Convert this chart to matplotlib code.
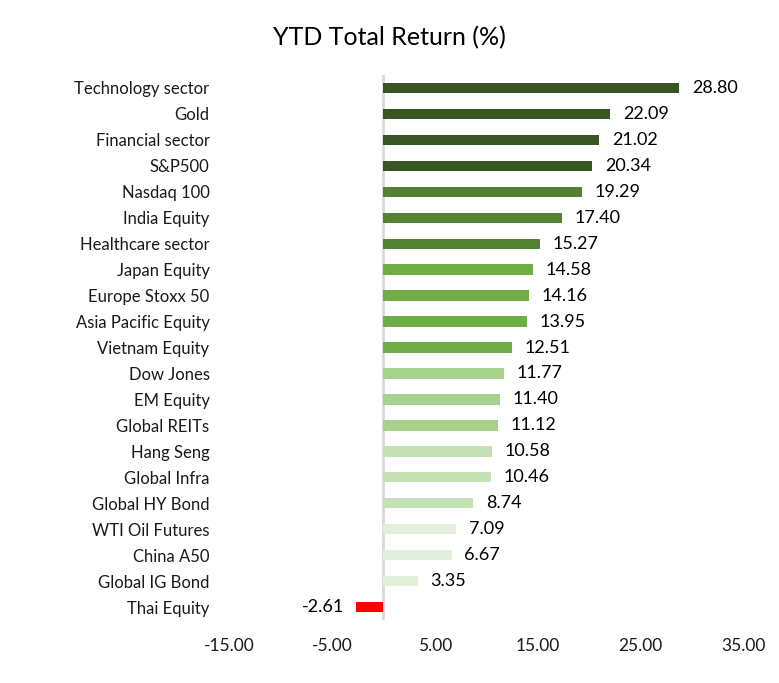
import numpy as np
import matplotlib.pyplot as plt

plt.rcParams['font.family'] = ['Lato', 'DejaVu Sans']

# data
categories = ['Technology sector', 'Gold', 'Financial sector', 'S&P500', 'Nasdaq 100',
              'India Equity', 'Healthcare sector', 'Japan Equity', 'Europe Stoxx 50',
              'Asia Pacific Equity', 'Vietnam Equity', 'Dow Jones', 'EM Equity',
              'Global REITs', 'Hang Seng', 'Global Infra', 'Global HY Bond',
              'WTI Oil Futures', 'China A50', 'Global IG Bond', 'Thai Equity']
returns = [28.80, 22.09, 21.02, 20.34, 19.29, 17.40, 15.27, 14.58, 14.16, 13.95,
           12.51, 11.77, 11.40, 11.12, 10.58, 10.46, 8.74, 7.09, 6.67, 3.35, -2.61]
bar_colors = (['#375623'] * 4 + ['#548235'] * 3 + ['#70AD47'] * 4 + ['#A9D18E'] * 3
              + ['#C5E0B4'] * 3 + ['#E2EFDA'] * 3 + ['#FF0000'])
xticks = [-15, -5, 5, 15, 25, 35]

fig = plt.figure(figsize=(7.79, 6.83), dpi=100)
ax = fig.add_axes([0.294, 0.0922, 0.660, 0.798])

y = np.arange(len(categories))
ax.barh(y, returns, height=0.4, color=bar_colors)

# data labels
for yi, v in zip(y, returns):
    if v >= 0:
        ax.annotate(f'{v:.2f}', (v, yi), xytext=(9, 0), textcoords='offset points',
                    ha='left', va='center', fontsize=13)
    else:
        ax.annotate(f'{v:.2f}', (v, yi), xytext=(-9, 0), textcoords='offset points',
                    ha='right', va='center', fontsize=13)

ax.axvline(0, color='#D9D9D9', lw=2, zorder=0)

ax.set_xlim(-15, 35)
ax.set_ylim(len(categories) - 0.5, -0.5)
ax.set_xticks(xticks)
ax.set_xticklabels([f'{t:.2f}' for t in xticks], fontsize=12.5, color='#1a1a1a')
ax.set_yticks(y)
ax.set_yticklabels(categories, fontsize=12, color='#1a1a1a')
ax.tick_params(axis='x', length=0, pad=13)
ax.tick_params(axis='y', length=0, pad=14)
for s in ax.spines.values():
    s.set_visible(False)

fig.text(0.5, 0.945, 'YTD Total Return (%)', ha='center', va='center', fontsize=18)

plt.savefig('out.png', dpi=100)
